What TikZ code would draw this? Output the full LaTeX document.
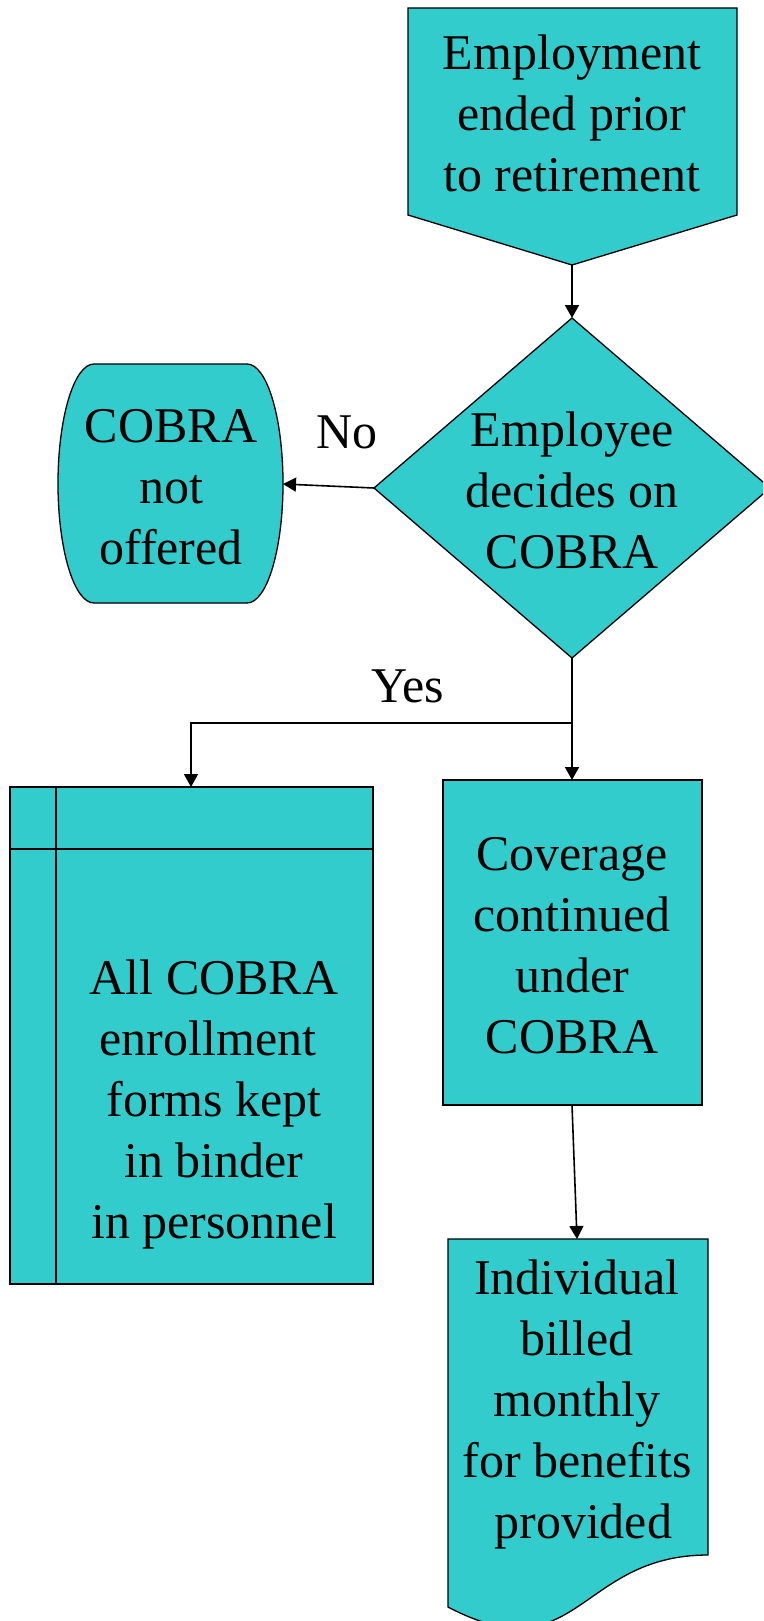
\documentclass[tikz,border=0pt]{standalone}
\usepackage{fontspec}
\setmainfont{Liberation Serif}
\usetikzlibrary{arrows.meta}
\definecolor{teal}{RGB}{51,204,204}
\tikzset{
  shapefill/.style={fill=teal, draw=black, line width=1.3pt, line join=miter},
  lbl/.style={align=center, inner sep=0pt, font=\fontsize{50}{61}\selectfont},
  conn/.style={draw=black, line width=1.6pt, -{Triangle[length=13pt,width=14pt]}},
  plain/.style={draw=black, line width=1.6pt},
}
\begin{document}
\begin{tikzpicture}[x=1pt,y=-1pt]
\useasboundingbox (0,0) rectangle (763,1621);
\clip (0,0) rectangle (763,1621);
% top pentagon (off-page connector)
\draw[shapefill] (408,8) -- (737,8) -- (737,215) -- (572,265) -- (408,215) -- cycle;
\node[lbl] (start) at (572,113) {Employment\\ended prior\\to retirement};
\coordinate (startbot) at (572,265);
% decision diamond
\draw[shapefill] (572,318) -- (770,488) -- (572,658) -- (374,488) -- cycle;
\node[lbl] (decide) at (572,490) {Employee\\decides on\\COBRA};
\coordinate (dectop) at (572,318);
\coordinate (decleft) at (374,488);
\coordinate (decbot) at (572,658);
% terminator
\draw[shapefill] (94,364) -- (247,364)
  .. controls (266.9,364) and (283,417.5) .. (283,483.5)
  .. controls (283,549.5) and (266.9,603) .. (247,603)
  -- (94,603)
  .. controls (74.1,603) and (58,549.5) .. (58,483.5)
  .. controls (58,417.5) and (74.1,364) .. (94,364) -- cycle;
\node[lbl] (notoff) at (171,487) {COBRA\\not\\offered};
\coordinate (termright) at (283,484);
% internal storage
\draw[shapefill] (10,787) rectangle (373,1284);
\draw[plain, line width=1.3pt] (56,787) -- (56,1284);
\draw[plain, line width=1.3pt] (10,849) -- (373,849);
\node[lbl] (forms) at (214,1104) {All COBRA\\enrollment\kern12.5pt\\forms kept\\in binder\\in personnel};
\coordinate (storetop) at (191,787);
% process rectangle
\draw[shapefill] (443,780) rectangle (702,1105);
\node[lbl] (cover) at (572,946) {Coverage\\continued\\under\\COBRA};
\coordinate (covtop) at (572,780);
\coordinate (covbot) at (572,1105);
% document
\draw[shapefill] (448,1239) -- (708,1239) -- (708,1555)
  .. controls (578,1555) and (578,1675) .. (448,1607) -- cycle;
\node[lbl] (bill) at (577,1404) {Individual\\billed\\monthly\\for benefits\\\kern12.5pt provided};
\coordinate (doctop) at (577,1239);
% connectors
\draw[conn] (startbot) -- (dectop);
\draw[conn] (decleft) -- (termright);
\coordinate (junc) at (572,723);
\draw[plain] (decbot) -- (junc);
\draw[conn] (junc) -- (covtop);
\draw[conn] (junc) -| (storetop);
\draw[conn] (covbot) -- (doctop);
% labels
\node[lbl] (no) at (347,432) {No};
\node[lbl] (yes) at (408,686) {Yes};
\end{tikzpicture}
\end{document}
